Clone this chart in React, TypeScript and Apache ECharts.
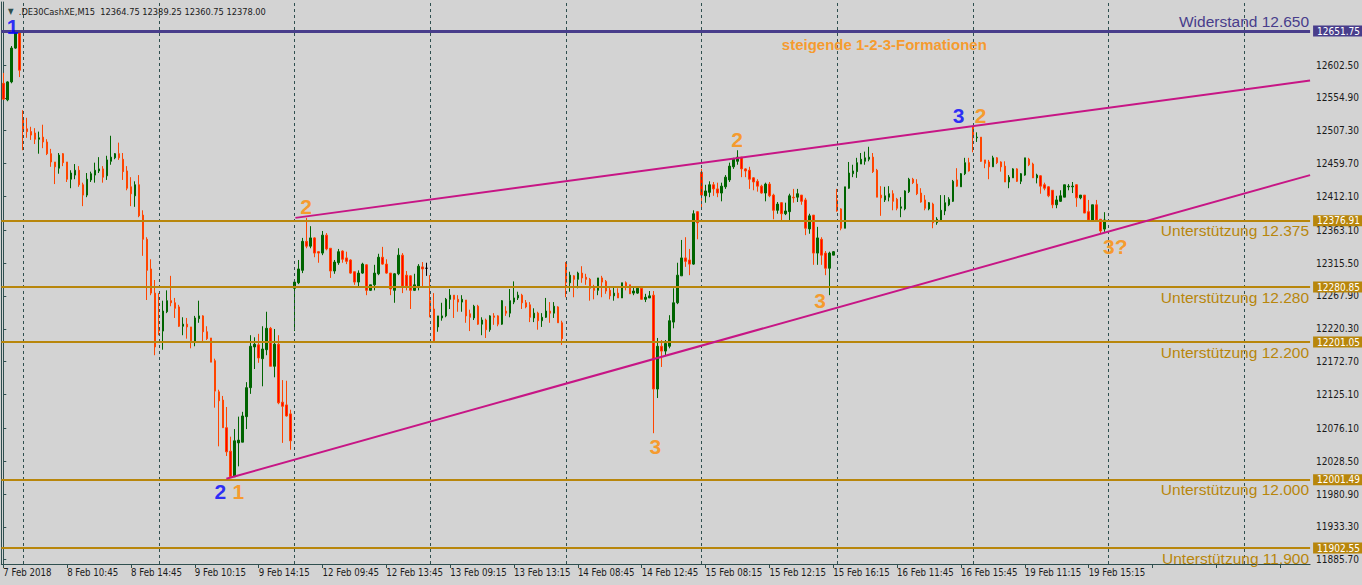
import React, { useEffect, useRef } from "react";
import * as echarts from "echarts";

// ---------- data ----------
const dateTicks = [
  "7 Feb 2018", "8 Feb 10:45", "8 Feb 14:45", "9 Feb 10:15", "9 Feb 14:15",
  "12 Feb 09:45", "12 Feb 13:45", "13 Feb 09:15", "13 Feb 13:15", "14 Feb 08:45",
  "14 Feb 12:45", "15 Feb 08:15", "15 Feb 12:15", "15 Feb 16:15", "16 Feb 11:45",
  "16 Feb 15:45", "19 Feb 11:15", "19 Feb 15:15",
];

const priceTicks = [
  11885.7, 11933.3, 11980.9, 12028.5, 12076.1, 12125.1, 12172.7, 12220.3,
  12267.9, 12315.5, 12363.1, 12412.1, 12459.7, 12507.3, 12554.9, 12602.5,
];

const opens = [
  12576, 12552, 12578, 12627, 12649, 12526, 12510, 12506, 12504, 12495,
  12498, 12491, 12474, 12462, 12453, 12474, 12462, 12437, 12443, 12450,
  12429, 12414, 12436, 12443, 12449, 12452, 12442, 12463, 12468, 12474,
  12466, 12449, 12426, 12413, 12429, 12385, 12350, 12307, 12272, 12219,
  12217, 12245, 12261, 12258, 12252, 12224, 12227, 12223, 12201, 12235,
  12239, 12216, 12207, 12174, 12129, 12117, 12077, 12043, 12006, 12055,
  12056, 12093, 12135, 12194, 12197, 12177, 12190, 12221, 12166, 12198,
  12114, 12110, 12097, 12279, 12287, 12305, 12347, 12340, 12352, 12332,
  12330, 12356, 12337, 12304, 12316, 12333, 12323, 12320, 12303, 12288,
  12301, 12313, 12276, 12284, 12300, 12324, 12314, 12301, 12276, 12300,
  12327, 12298, 12297, 12276, 12282, 12310, 12308, 12261, 12249, 12223,
  12236, 12239, 12263, 12269, 12263, 12259, 12262, 12242, 12236, 12253,
  12227, 12233, 12219, 12239, 12239, 12227, 12246, 12243, 12259, 12265,
  12269, 12258, 12255, 12236, 12243, 12232, 12237, 12246, 12243, 12252,
  12229, 12314, 12287, 12297, 12292, 12301, 12295, 12292, 12281, 12276,
  12294, 12289, 12276, 12268, 12272, 12265, 12287, 12284, 12272, 12272,
  12279, 12263, 12265, 12269, 12133, 12195, 12188, 12195, 12230, 12258,
  12297, 12323, 12320, 12314, 12390, 12447, 12413, 12418, 12429, 12423,
  12417, 12426, 12436, 12455, 12463, 12469, 12452, 12450, 12439, 12434,
  12427, 12417, 12430, 12414, 12392, 12403, 12387, 12390, 12411, 12411,
  12414, 12407, 12365, 12385, 12330, 12350, 12330, 12308, 12327, 12407,
  12394, 12366, 12424, 12445, 12448, 12459, 12463, 12466, 12469, 12450,
  12414, 12407, 12411, 12416, 12408, 12395, 12394, 12419, 12437, 12430,
  12417, 12407, 12394, 12401, 12374, 12378, 12391, 12400, 12405, 12436,
  12426, 12445, 12461, 12513, 12497, 12498, 12465, 12462, 12455, 12468,
  12462, 12456, 12433, 12439, 12452, 12434, 12443, 12466, 12459, 12439,
  12442, 12429, 12426, 12421, 12400, 12405, 12411, 12426, 12426, 12429,
  12410, 12414, 12390, 12376, 12400, 12379, 12364.75,
];

const closes = [
  12553, 12578, 12627, 12649, 12595, 12508, 12506, 12501, 12495, 12497,
  12491, 12474, 12462, 12455, 12472, 12461, 12437, 12446, 12450, 12429,
  12414, 12437, 12445, 12450, 12452, 12440, 12465, 12469, 12474, 12468,
  12448, 12424, 12416, 12429, 12384, 12350, 12305, 12272, 12194, 12217,
  12246, 12261, 12258, 12250, 12224, 12227, 12223, 12203, 12236, 12239,
  12216, 12206, 12172, 12130, 12116, 12077, 12042, 12006, 12058, 12059,
  12094, 12135, 12195, 12198, 12178, 12191, 12221, 12166, 12198, 12113,
  12108, 12094, 12058, 12288, 12307, 12347, 12340, 12352, 12330, 12330,
  12356, 12336, 12304, 12317, 12332, 12321, 12318, 12301, 12288, 12301,
  12314, 12276, 12284, 12301, 12324, 12314, 12301, 12278, 12300, 12327,
  12282, 12282, 12276, 12284, 12311, 12307, 12308, 12249, 12203, 12239,
  12239, 12263, 12269, 12263, 12259, 12263, 12239, 12237, 12253, 12227,
  12233, 12219, 12239, 12237, 12227, 12261, 12243, 12261, 12265, 12269,
  12258, 12252, 12237, 12243, 12232, 12237, 12246, 12243, 12253, 12229,
  12206, 12287, 12298, 12292, 12301, 12294, 12292, 12279, 12276, 12294,
  12288, 12275, 12268, 12272, 12265, 12287, 12282, 12271, 12275, 12279,
  12263, 12266, 12268, 12133, 12195, 12188, 12199, 12232, 12258, 12298,
  12323, 12318, 12314, 12387, 12374, 12414, 12420, 12429, 12423, 12417,
  12427, 12440, 12456, 12466, 12469, 12452, 12449, 12437, 12433, 12427,
  12417, 12430, 12413, 12392, 12401, 12387, 12391, 12413, 12410, 12416,
  12405, 12366, 12384, 12330, 12352, 12327, 12308, 12330, 12332, 12391,
  12366, 12426, 12446, 12449, 12461, 12466, 12468, 12469, 12448, 12411,
  12410, 12413, 12416, 12405, 12395, 12397, 12420, 12437, 12432, 12416,
  12404, 12395, 12403, 12374, 12379, 12392, 12403, 12408, 12434, 12427,
  12445, 12461, 12449, 12497, 12498, 12463, 12460, 12455, 12468, 12461,
  12455, 12433, 12440, 12452, 12434, 12445, 12468, 12458, 12439, 12443,
  12427, 12424, 12413, 12400, 12407, 12413, 12429, 12427, 12427, 12410,
  12414, 12388, 12378, 12400, 12378, 12362, 12378,
];

const lows = [
  12552, 12550, 12576, 12626, 12585, 12479, 12497, 12494, 12488, 12474,
  12482, 12472, 12455, 12430, 12445, 12456, 12433, 12424, 12437, 12426,
  12398, 12411, 12433, 12432, 12446, 12432, 12436, 12458, 12466, 12465,
  12436, 12421, 12398, 12397, 12382, 12326, 12262, 12269, 12182, 12211,
  12190, 12243, 12253, 12236, 12223, 12211, 12206, 12192, 12195, 12229,
  12200, 12204, 12172, 12106, 12050, 12077, 12036, 12004, 12006, 12021,
  12056, 12075, 12126, 12162, 12171, 12137, 12182, 12166, 12150, 12111,
  12055, 12093, 12045, 12217, 12285, 12301, 12337, 12337, 12324, 12316,
  12327, 12334, 12294, 12300, 12313, 12316, 12314, 12300, 12284, 12281,
  12300, 12269, 12275, 12276, 12298, 12313, 12300, 12269, 12258, 12298,
  12272, 12276, 12249, 12275, 12276, 12281, 12297, 12237, 12200, 12216,
  12232, 12237, 12249, 12236, 12245, 12245, 12229, 12217, 12233, 12226,
  12211, 12207, 12216, 12226, 12224, 12226, 12239, 12237, 12256, 12262,
  12249, 12250, 12230, 12230, 12219, 12223, 12236, 12229, 12236, 12229,
  12197, 12266, 12274, 12266, 12279, 12287, 12284, 12261, 12263, 12269,
  12266, 12271, 12263, 12261, 12265, 12265, 12276, 12271, 12269, 12271,
  12262, 12259, 12265, 12069, 12120, 12165, 12181, 12192, 12221, 12256,
  12297, 12310, 12298, 12313, 12350, 12395, 12403, 12411, 12413, 12411,
  12405, 12423, 12433, 12452, 12458, 12440, 12440, 12423, 12421, 12419,
  12416, 12405, 12411, 12379, 12387, 12376, 12385, 12378, 12403, 12404,
  12400, 12356, 12358, 12313, 12313, 12313, 12298, 12269, 12327, 12390,
  12363, 12366, 12423, 12440, 12439, 12459, 12458, 12463, 12446, 12411,
  12384, 12404, 12405, 12392, 12392, 12382, 12392, 12417, 12430, 12414,
  12403, 12392, 12392, 12366, 12371, 12378, 12385, 12398, 12404, 12426,
  12426, 12443, 12448, 12476, 12491, 12462, 12453, 12437, 12455, 12459,
  12448, 12433, 12424, 12439, 12433, 12430, 12442, 12456, 12439, 12431,
  12416, 12421, 12411, 12395, 12395, 12404, 12411, 12421, 12417, 12397,
  12408, 12388, 12375, 12376, 12376, 12359, 12360.75,
];

const highs = [
  12591, 12579, 12630, 12652, 12652, 12537, 12526, 12513, 12511, 12506,
  12516, 12495, 12481, 12462, 12475, 12475, 12462, 12450, 12459, 12456,
  12432, 12446, 12448, 12461, 12469, 12456, 12471, 12500, 12475, 12490,
  12475, 12456, 12440, 12434, 12443, 12392, 12353, 12321, 12291, 12272,
  12261, 12276, 12297, 12265, 12255, 12237, 12236, 12223, 12239, 12261,
  12240, 12224, 12207, 12177, 12132, 12123, 12107, 12064, 12075, 12093,
  12100, 12143, 12211, 12208, 12213, 12224, 12245, 12223, 12220, 12211,
  12146, 12145, 12103, 12291, 12320, 12352, 12381, 12369, 12353, 12333,
  12362, 12359, 12337, 12320, 12336, 12334, 12332, 12321, 12303, 12305,
  12316, 12314, 12284, 12313, 12329, 12339, 12321, 12301, 12301, 12337,
  12330, 12304, 12298, 12300, 12314, 12317, 12316, 12298, 12272, 12239,
  12258, 12265, 12278, 12269, 12269, 12269, 12262, 12248, 12255, 12255,
  12237, 12235, 12240, 12243, 12240, 12262, 12253, 12278, 12289, 12274,
  12271, 12262, 12259, 12250, 12245, 12243, 12265, 12259, 12259, 12253,
  12232, 12317, 12303, 12298, 12303, 12311, 12300, 12294, 12284, 12294,
  12297, 12291, 12282, 12282, 12279, 12287, 12289, 12284, 12282, 12281,
  12279, 12271, 12275, 12275, 12207, 12204, 12204, 12240, 12279, 12316,
  12349, 12353, 12336, 12392, 12391, 12452, 12429, 12434, 12433, 12432,
  12432, 12443, 12461, 12468, 12479, 12469, 12453, 12455, 12440, 12437,
  12429, 12432, 12433, 12416, 12404, 12404, 12403, 12416, 12423, 12423,
  12414, 12410, 12387, 12385, 12368, 12353, 12333, 12332, 12333, 12423,
  12395, 12426, 12462, 12458, 12468, 12475, 12477, 12484, 12475, 12452,
  12427, 12426, 12427, 12421, 12410, 12411, 12421, 12439, 12439, 12437,
  12424, 12414, 12404, 12403, 12382, 12414, 12414, 12411, 12436, 12453,
  12446, 12468, 12468, 12514, 12505, 12498, 12465, 12465, 12471, 12469,
  12463, 12463, 12443, 12453, 12453, 12446, 12468, 12468, 12461, 12445,
  12443, 12432, 12427, 12421, 12413, 12421, 12429, 12430, 12433, 12430,
  12414, 12414, 12407, 12400, 12407, 12379, 12389.25,
];

const resistanceLevel = 12651.75;
const resistanceText = "Widerstand 12.650";
const supportLevels = [12376.91, 12280.85, 12201.05, 12001.49, 11902.55];
const supportTexts = [
  "Unterstützung 12.375", "Unterstützung 12.280", "Unterstützung 12.200",
  "Unterstützung 12.000", "Unterstützung 11.900",
];

// day separators (bar index where a new session starts)
const daySeparators = [5, 39, 73, 107, 141, 175, 209, 243, 277, 311];

// trend lines: [bar index, price]
const upperTrend = [[73.2, 12381], [327.5, 12580]];
const lowerTrend = [[55.9, 12003], [327.5, 12443]];

// 1-2-3 annotations: text, bar index, price, kind (b = blue, o = orange)
const noteTexts = ["1", "2", "2", "1", "3", "2", "3", "3", "2", "3?"];
const noteBars = [2.3, 75.9, 54.4, 58.9, 163.4, 183.9, 204.7, 239.4, 244.9, 278.7];
const notePrices = [12658, 12397, 11984, 11984, 12050, 12494, 12261, 12529, 12529, 12340];
const noteKinds = ["b", "o", "b", "o", "o", "o", "o", "b", "o", "o"];

const headline = "steigende 1-2-3-Formationen";
const headlineBar = 220.8;
const headlinePrice = 12632;

const symbolTitle = ".DE30CashXE,M15  12364.75 12389.25 12360.75 12378.00";

// ---------- chart ----------
const BAR_SLOTS = 328;
const Y_MIN = 11879.5;
const Y_MAX = 12693.8;
const AXIS_FONT = "'DejaVu Sans Condensed', 'Liberation Sans', sans-serif";
const TEXT_FONT = "'Liberation Sans', Arial, sans-serif";
const FRAME = "#2F4F4F";
const SUPPORT_COLOR = "#B8860B";
const RESIST_COLOR = "#483D8B";
const TREND_COLOR = "#C71585";
const ORANGE = "#FF8C00";
const BLUE = "#0000FF";
const CLEAR = "rgba(0,0,0,0)";

function buildOption() {
  const categories = Array.from({ length: BAR_SLOTS }, (_, i) => String(i));
  const candles = opens.map((o, i) => [o, closes[i], lows[i], highs[i]]);

  const boxLabel = (v: number, bg: string) => ({
    show: true, position: "end", formatter: v.toFixed(2),
    color: "#ffffff", backgroundColor: bg, padding: [1, 4, 0, 4],
    fontSize: 10, fontFamily: AXIS_FONT, distance: 3,
  });

  const levelMarks: any[] = [];
  levelMarks.push({
    yAxis: resistanceLevel,
    lineStyle: { color: RESIST_COLOR, width: 3, type: "solid" },
    label: {
      show: true, position: "insideEndTop", formatter: resistanceText,
      color: RESIST_COLOR, fontSize: 15.5, fontFamily: TEXT_FONT, distance: [1, 2],
    },
  });
  levelMarks.push({
    yAxis: resistanceLevel,
    lineStyle: { color: CLEAR, width: 0 },
    label: boxLabel(resistanceLevel, RESIST_COLOR),
  });
  supportLevels.forEach((lv, i) => {
    levelMarks.push({
      yAxis: lv,
      lineStyle: { color: SUPPORT_COLOR, width: 2, type: "solid" },
      label: {
        show: true, position: "insideEndBottom", formatter: supportTexts[i],
        color: SUPPORT_COLOR, fontSize: 15.5, fontFamily: TEXT_FONT, distance: [1, 2],
      },
    });
    levelMarks.push({
      yAxis: lv,
      lineStyle: { color: CLEAR, width: 0 },
      label: boxLabel(lv, SUPPORT_COLOR),
    });
  });

  const notes = noteTexts.map((t, i) => ({
    value: [noteBars[i], notePrices[i]],
    label: { formatter: t, color: noteKinds[i] === "b" ? BLUE : ORANGE },
  }));

  return {
    animation: false,
    backgroundColor: "#D3D3D3",
    title: {
      text: "{t|▼}  " + symbolTitle,
      left: 3,
      top: 2,
      textStyle: {
        fontSize: 9.2, fontWeight: "normal", color: "#1a1a1a", fontFamily: AXIS_FONT,
        rich: { t: { fontSize: 8, color: "#2F4F4F" } },
      },
    },
    grid: { left: 1.3, right: 48.7, top: 2, bottom: 21, containLabel: false },
    xAxis: [
      {
        type: "category",
        data: categories,
        boundaryGap: true,
        axisLine: { show: true, lineStyle: { color: FRAME, width: 1 } },
        axisTick: {
          show: true, interval: 15, alignWithLabel: true, length: 4,
          lineStyle: { color: FRAME },
        },
        axisLabel: {
          interval: 15,
          formatter: (_v: string, idx: number) => dateTicks[idx / 16] ?? "",
          align: "left", margin: 3, fontSize: 9.6, color: "#1a1a1a", fontFamily: AXIS_FONT,
        },
        splitLine: { show: false },
      },
      { type: "value", min: -0.5, max: BAR_SLOTS - 0.5, show: false },
    ],
    yAxis: [
      {
        type: "value",
        position: "right",
        min: Y_MIN,
        max: Y_MAX,
        axisLine: { show: true, lineStyle: { color: FRAME, width: 1 } },
        axisTick: { show: true, length: 3, customValues: priceTicks, lineStyle: { color: FRAME } },
        axisLabel: {
          customValues: priceTicks,
          formatter: (v: number) => v.toFixed(2),
          margin: 6, fontSize: 10, color: "#1a1a1a", fontFamily: AXIS_FONT,
        },
        splitLine: { show: false },
      },
      {
        type: "value",
        position: "left",
        min: Y_MIN,
        max: Y_MAX,
        axisLine: { show: true, lineStyle: { color: FRAME, width: 1 } },
        axisTick: { show: false },
        axisLabel: { show: false },
        splitLine: { show: false },
      },
    ],
    series: [
      {
        name: "separators",
        type: "line",
        xAxisIndex: 1,
        yAxisIndex: 0,
        data: [],
        z: 1,
        markLine: {
          silent: true,
          symbol: ["none", "none"],
          label: { show: false },
          lineStyle: { color: FRAME, width: 1, type: [3, 3] },
          data: daySeparators.map((b) => ({ xAxis: b })),
        },
      },
      {
        name: "DE30",
        type: "candlestick",
        xAxisIndex: 0,
        yAxisIndex: 0,
        barWidth: 2,
        z: 3,
        data: candles,
        itemStyle: {
          color: "#006400",
          color0: "#FF0000",
          borderColor: "#006400",
          borderColor0: "#FF4500",
          borderColorDoji: "#000000",
          borderWidth: 1,
        },
      },
      {
        name: "levels",
        type: "line",
        xAxisIndex: 0,
        yAxisIndex: 0,
        data: [],
        z: 4,
        clip: false,
        markLine: {
          silent: true,
          symbol: ["none", "none"],
          data: levelMarks,
        },
      },
      {
        name: "upper trend",
        type: "line",
        xAxisIndex: 1,
        yAxisIndex: 0,
        data: upperTrend,
        showSymbol: false,
        z: 5,
        lineStyle: { color: TREND_COLOR, width: 2 },
      },
      {
        name: "lower trend",
        type: "line",
        xAxisIndex: 1,
        yAxisIndex: 0,
        data: lowerTrend,
        showSymbol: false,
        z: 5,
        lineStyle: { color: TREND_COLOR, width: 2 },
      },
      {
        name: "notes",
        type: "scatter",
        xAxisIndex: 1,
        yAxisIndex: 0,
        symbolSize: 1,
        z: 6,
        itemStyle: { color: "transparent" },
        label: {
          show: true, position: "inside", fontSize: 21, fontWeight: "bold", fontFamily: TEXT_FONT,
        },
        data: notes,
      },
      {
        name: "headline",
        type: "scatter",
        xAxisIndex: 1,
        yAxisIndex: 0,
        symbolSize: 1,
        z: 6,
        itemStyle: { color: "transparent" },
        label: {
          show: true, position: "inside", formatter: headline, color: ORANGE,
          fontSize: 15, fontWeight: "bold", fontFamily: TEXT_FONT,
        },
        data: [[headlineBar, headlinePrice]],
      },
    ],
  };
}

export default function App() {
  const ref = useRef<HTMLDivElement>(null);
  useEffect(() => {
    if (!ref.current) return;
    const chart = echarts.init(ref.current, null, { renderer: "svg" });
    chart.setOption(buildOption() as any);
    return () => chart.dispose();
  }, []);
  return (
    <div
      ref={ref}
      style={{ position: "fixed", left: 0, top: 0, width: 1362, height: 585 }}
    />
  );
}
